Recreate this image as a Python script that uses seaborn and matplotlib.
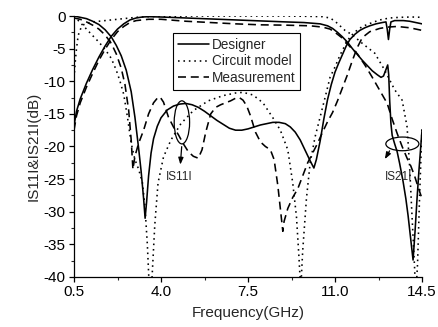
import numpy as np
import pandas as pd
import matplotlib
matplotlib.use("Agg")
import matplotlib.pyplot as plt
import seaborn as sns
from matplotlib.patches import Ellipse

# Designer (solid)
des_s11_f = [0.5, 0.75, 1.0, 1.25, 1.5, 1.75, 2.0, 2.2, 2.4, 2.6, 2.8, 2.95, 3.1, 3.2, 3.3, 3.36,
             3.42, 3.5, 3.6, 3.7, 3.85, 4.0, 4.25, 4.5, 4.75, 5.0, 5.25, 5.5, 5.75, 6.0, 6.25, 6.5,
             6.75, 7.0, 7.25, 7.5, 7.75, 8.0, 8.25, 8.5, 8.75, 9.0, 9.2, 9.4, 9.6, 9.8, 10.0, 10.15,
             10.25, 10.4, 10.55, 10.7, 10.85, 11.0, 11.15, 11.3, 11.45, 11.6, 11.8, 12.0, 12.2, 12.4,
             12.65, 12.9, 13.05, 13.1, 13.15, 13.2, 13.25, 13.4, 13.75, 14.0, 14.25, 14.5]
des_s11_db = [0.0, -0.2, -0.4, -0.8, -1.3, -2.1, -3.2, -4.5, -6.1, -8.3, -11.6, -15.5, -20.3, -23.8,
              -28.0, -31.0, -28.5, -24.5, -21.0, -18.8, -16.9, -15.6, -14.4, -13.8, -13.5, -13.4,
              -13.6, -14.0, -14.6, -15.3, -16.0, -16.6, -17.2, -17.5, -17.5, -17.3, -17.0, -16.7,
              -16.5, -16.3, -16.3, -16.5, -17.0, -17.8, -19.0, -20.6, -22.2, -23.3, -22.0, -19.2,
              -15.8, -12.8, -10.5, -8.6, -7.2, -5.9, -4.6, -3.6, -2.8, -2.2, -1.8, -1.5, -1.2, -1.0,
              -0.9, -2.0, -3.6, -2.0, -0.9, -0.7, -0.7, -0.8, -1.0, -1.2]
des_s21_f = [0.5, 0.6, 0.75, 1.0, 1.25, 1.5, 1.75, 2.0, 2.25, 2.5, 2.75, 3.0, 3.25, 3.5, 4.0, 5.0,
             6.0, 7.0, 8.0, 9.0, 9.75, 10.4, 10.7, 10.9, 11.1, 11.3, 11.5, 11.7, 11.9, 12.1, 12.3,
             12.5, 12.7, 12.85, 12.95, 13.05, 13.12, 13.16, 13.2, 13.25, 13.3, 13.4, 13.5, 13.6,
             13.74, 13.85, 13.94, 14.04, 14.14, 14.22, 14.3, 14.38, 14.45, 14.5]
des_s21_db = [-16.8, -14.6, -12.7, -10.3, -8.2, -6.3, -4.6, -3.1, -2.0, -1.2, -0.6, -0.3, -0.15,
              -0.1, -0.15, -0.3, -0.45, -0.6, -0.75, -0.9, -1.0, -1.2, -1.5, -1.9, -2.5, -3.2,
              -4.0, -5.0, -5.9, -6.8, -7.6, -8.4, -9.0, -9.4, -9.2, -8.2, -7.5, -9.0, -13.0,
              -16.5, -18.3, -19.6, -20.8, -22.6, -25.4, -28.0, -30.6, -34.0, -37.4, -33.0, -28.0,
              -23.5, -20.0, -17.5]

# Circuit model (dotted)
cir_s11_f = [0.5, 0.6, 0.75, 1.0, 1.25, 1.5, 1.75, 2.0, 2.2, 2.35, 2.5, 2.65, 2.8, 2.95, 3.1, 3.25,
             3.35, 3.45, 3.52, 3.58, 3.64, 3.75, 3.88, 4.1, 4.4, 4.8, 5.3, 5.9, 6.5, 7.0, 7.3, 7.7,
             8.1, 8.5, 8.8, 9.1, 9.3, 9.45, 9.55, 9.62, 9.7, 9.85, 10.0, 10.2, 10.4, 10.6, 10.8,
             11.0, 11.2, 11.4, 11.6, 11.85, 12.1, 12.5, 12.8, 13.2, 13.6, 14.1, 14.5]
cir_s11_db = [0.0, -0.4, -1.0, -2.0, -3.0, -4.0, -5.1, -6.5, -8.3, -10.0, -12.0, -15.5, -19.5,
              -22.0, -23.5, -25.5, -29.0, -35.0, -41.0, -44.0, -40.0, -32.0, -25.6, -21.6, -19.0,
              -16.5, -14.5, -13.0, -12.2, -11.8, -11.7, -12.1, -13.3, -15.6, -17.5, -20.5, -25.6,
              -30.8, -37.0, -42.0, -36.0, -28.0, -22.5, -18.5, -15.5, -12.5, -9.4, -7.8, -6.0,
              -4.5, -3.2, -2.3, -1.6, -1.0, -0.6, -0.3, -0.2, -0.15, -0.2]
cir_s21_f = [0.5, 0.55, 0.6, 0.65, 0.7, 0.8, 0.9, 1.0, 1.25, 1.5, 1.75, 2.0, 2.5, 3.0, 3.5, 4.0,
             5.0, 6.0, 7.0, 8.0, 9.0, 10.0, 10.5, 10.8, 11.0, 11.2, 11.4, 11.7, 12.1, 12.6, 13.0,
             13.4, 13.7, 13.9, 14.0, 14.1, 14.2, 14.25, 14.32, 14.4, 14.5]
cir_s21_db = [-9.5, -7.0, -5.0, -3.5, -2.5, -1.7, -1.3, -1.1, -0.9, -0.8, -0.7, -0.6, -0.4, -0.2,
              -0.1, -0.05, 0.0, 0.0, 0.0, 0.0, 0.0, -0.05, -0.1, -0.3, -0.8, -1.5, -2.2, -2.9,
              -4.2, -5.7, -8.3, -11.3, -12.9, -17.0, -23.0, -30.8, -38.5, -43.0, -38.0, -28.0,
              -17.0]

# Measurement (dashed)
mea_s11_f = [0.5, 0.75, 1.0, 1.25, 1.5, 1.75, 2.0, 2.2, 2.4, 2.55, 2.7, 2.8, 2.87, 2.95, 3.1, 3.3,
             3.5, 3.7, 3.85, 3.96, 4.1, 4.3, 4.5, 4.7, 4.9, 5.1, 5.3, 5.5, 5.65, 5.8, 6.0, 6.2, 6.4,
             6.6, 6.8, 7.0, 7.15, 7.3, 7.45, 7.6, 7.8, 8.0, 8.2, 8.4, 8.55, 8.7, 8.8, 8.9, 8.95,
             9.1, 9.3, 9.5, 9.7, 9.9, 10.1, 10.3, 10.5, 10.7, 10.9, 11.1, 11.3, 11.5, 11.7, 11.9,
             12.1, 12.4, 12.8, 13.1, 13.5, 14.0, 14.5]
mea_s11_db = [-0.3, -0.5, -0.9, -1.4, -2.0, -2.9, -4.2, -5.8, -8.0, -10.5, -14.5, -19.0, -23.5,
              -21.5, -19.5, -17.5, -15.0, -13.3, -12.6, -12.4, -13.2, -15.5, -17.0, -18.2, -19.6,
              -20.8, -21.5, -21.8, -20.5, -17.8, -15.0, -14.0, -13.6, -13.3, -13.0, -12.6, -12.5,
              -12.9, -13.8, -15.3, -17.8, -19.3, -20.0, -20.5, -22.0, -26.0, -29.5, -33.0, -31.5,
              -29.5, -27.8, -26.5, -24.5, -22.5, -21.0, -19.5, -17.8, -16.2, -14.8, -13.0, -11.0,
              -9.0, -6.8, -4.8, -3.3, -2.4, -1.9, -1.7, -1.6, -1.8, -2.2]
mea_s21_f = [0.5, 0.6, 0.75, 1.0, 1.25, 1.5, 1.75, 2.0, 2.25, 2.5, 2.75, 3.0, 3.5, 4.0, 5.0, 6.0,
             7.0, 8.0, 9.0, 10.0, 10.5, 10.8, 11.0, 11.3, 11.6, 11.9, 12.2, 12.5, 12.8, 13.1,
             13.3, 13.5, 13.7, 13.9, 14.05, 14.2, 14.35, 14.5]
mea_s21_db = [-17.5, -15.3, -13.3, -10.9, -8.8, -6.8, -5.1, -3.6, -2.4, -1.6, -1.0, -0.7, -0.5,
              -0.5, -0.8, -1.0, -1.2, -1.35, -1.4, -1.5, -1.7, -2.0, -2.5, -3.4, -4.7, -5.8, -7.5,
              -9.4, -11.4, -13.4, -15.8, -18.0, -20.0, -21.8, -23.0, -24.5, -26.3, -28.0]

x_ticks = [0.5, 4.0, 7.5, 11.0, 14.5]
y_ticks = [0, -5, -10, -15, -20, -25, -30, -35, -40]

sns.set_style("ticks")
plt.rcParams["font.family"] = ["Liberation Sans", "DejaVu Sans"]
plt.rcParams["axes.unicode_minus"] = False

fig = plt.figure(figsize=(4.39, 3.27), dpi=100)
ax = fig.add_axes([0.1686, 0.153, 0.7927, 0.798])

dotted = (0, (1, 2.4))
dashed = (0, (5, 3))
curves = [
    (des_s11_f, des_s11_db, "-", "Designer"),
    (cir_s11_f, cir_s11_db, dotted, "Circuit model"),
    (mea_s11_f, mea_s11_db, dashed, "Measurement"),
    (des_s21_f, des_s21_db, "-", None),
    (cir_s21_f, cir_s21_db, dotted, None),
    (mea_s21_f, mea_s21_db, dashed, None),
]
for f, db, ls, lab in curves:
    sns.lineplot(x=f, y=db, ax=ax, color="black", linewidth=1.15, linestyle=ls,
                 label=lab, sort=False, estimator=None, legend=lab is not None)

ax.set_xlim(0.5, 14.5)
ax.set_ylim(-40, 0)
ax.set_xticks(x_ticks)
ax.set_xticklabels([f"{v:.1f}" for v in x_ticks])
ax.set_xticks([2.25, 5.75, 9.25, 12.75], minor=True)
ax.set_yticks(y_ticks)
ax.set_yticks(np.arange(-37.5, 0, 5), minor=True)
ax.tick_params(which="major", direction="out", length=3.5, width=0.9, labelsize=11, colors="black",
               pad=2.5)
ax.tick_params(which="minor", direction="out", length=2.2, width=0.8)
sns.despine(ax=ax)
for s in ["left", "bottom"]:
    ax.spines[s].set_color("black")
    ax.spines[s].set_linewidth(0.9)

ax.set_xlabel("Frequency(GHz)", fontsize=11, labelpad=5)
ax.set_ylabel("IS11I&IS21I(dB)", fontsize=11, labelpad=2)

leg = ax.legend(loc="upper left", bbox_to_anchor=(0.284, 0.935), borderaxespad=0,
                fontsize=9.8, handlelength=2.3, handletextpad=0.2, labelspacing=0.2,
                borderpad=0.35, frameon=True, fancybox=False, framealpha=1)
leg.get_frame().set_edgecolor("black")
leg.get_frame().set_linewidth(0.8)

ax.add_patch(Ellipse((4.84, -16.3), 0.62, 6.6, fill=False, edgecolor="black", linewidth=0.9))
ax.add_patch(Ellipse((13.71, -19.6), 1.33, 2.1, fill=False, edgecolor="black", linewidth=0.9))
ax.annotate("", xy=(4.77, -23.2), xytext=(4.84, -19.6),
            arrowprops=dict(arrowstyle="-|>,head_length=0.4,head_width=0.15", color="black", lw=0.9))
ax.annotate("", xy=(12.95, -22.3), xytext=(13.25, -20.3),
            arrowprops=dict(arrowstyle="-|>,head_length=0.4,head_width=0.15", color="black", lw=0.9))
ax.text(4.72, -24.6, "IS11I", fontsize=8.5, ha="center", va="center")
ax.text(13.55, -24.6, "IS21I", fontsize=8.5, ha="center", va="center")

fig.savefig("out.png", dpi=100)
